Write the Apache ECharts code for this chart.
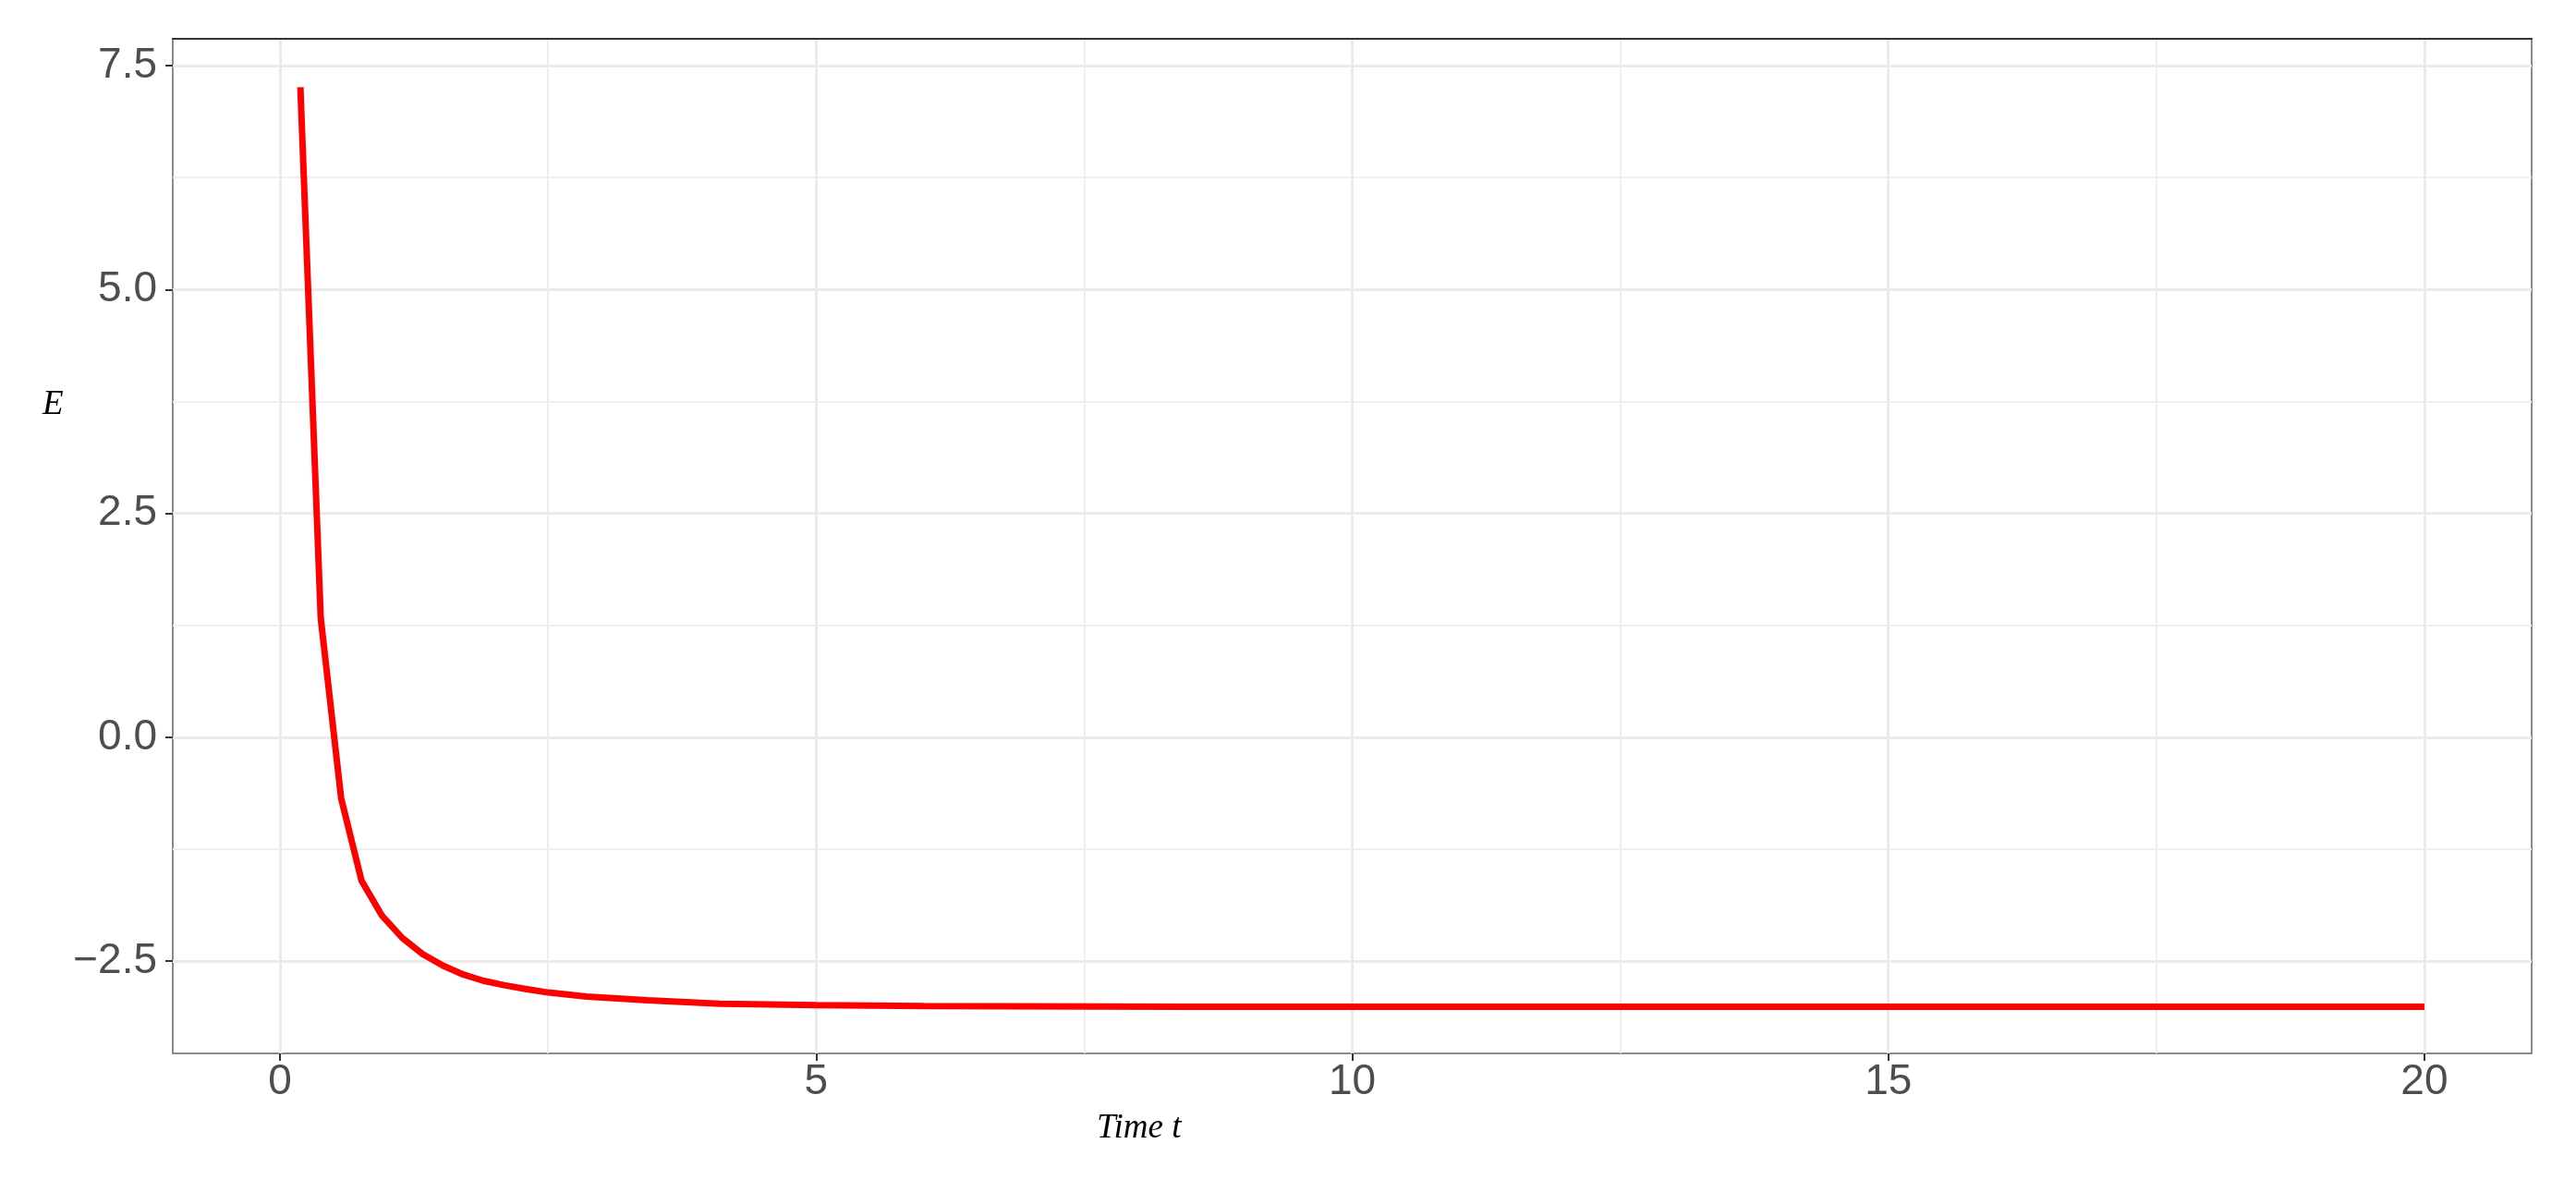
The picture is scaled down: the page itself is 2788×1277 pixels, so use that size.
<!DOCTYPE html>
<html>
<head>
<meta charset="utf-8">
<title>E over time</title>
<script src="https://cdn.jsdelivr.net/npm/echarts@6/dist/echarts.min.js"></script>
<style>
	html, body { margin: 0; padding: 0; background: #fff; }
	#chart { width: 2788px; height: 1277px; }
</style>
</head>
<body>
<div id="chart"></div>
<script>
// time points and E values
var timeArr = [0.19, 0.38, 0.57, 0.76, 0.95, 1.14, 1.33, 1.52, 1.71, 1.90, 2.10, 2.29, 2.50, 2.86, 3.43, 4.10, 5.0, 6.0, 8.4, 12.0, 16.0, 20.0];
var energyArr = [7.26, 1.33, -0.68, -1.60, -1.99, -2.24, -2.42, -2.55, -2.65, -2.72, -2.77, -2.81, -2.85, -2.895, -2.936, -2.975, -2.99, -3.0, -3.01, -3.01, -3.01, -3.01];

var xTicks = [0, 5, 10, 15, 20];
var xMinorTicks = [2.5, 7.5, 12.5, 17.5];
var yTicks = [-2.5, 0, 2.5, 5, 7.5];
var yMinorTicks = [-1.25, 1.25, 3.75, 6.25];

var xTitle = 'Time t';
var yTitle = 'E';

(function () {
	'use strict';

	var chart = echarts.init(document.getElementById('chart'));

	var seriesData = [];
	for (var i = 0; i < timeArr.length; i++) {
		seriesData.push([timeArr[i], energyArr[i]]);
	}

	var labelFont = {
		fontFamily: '"Liberation Sans", Arial, sans-serif',
		fontSize: 46,
		color: '#4d4d4d'
	};
	var tickStyle = { color: '#333', width: 2 };
	var titleFont = 'italic 37px "Liberation Serif", "Times New Roman", serif';

	// 负号用 unicode minus，与原图一致
	function fmtY(v) {
		return (v < 0 ? '\u2212' : '') + Math.abs(v).toFixed(1);
	}

	var option = {
		backgroundColor: '#fff',
		animation: false,
		grid: {
			left: 187,
			top: 42,
			width: 2553,
			height: 1098,
			show: true,
			backgroundColor: '#fff',
			borderColor: '#8a8a8a',
			borderWidth: 2
		},
		xAxis: [{
			type: 'value',
			min: -1,
			max: 21,
			position: 'bottom',
			axisLine: { show: false, onZero: false },
			axisTick: { show: true, length: 8, lineStyle: tickStyle, customValues: xTicks },
			axisLabel: {
				customValues: xTicks,
				margin: 8,
				fontFamily: labelFont.fontFamily,
				fontSize: labelFont.fontSize,
				color: labelFont.color
			},
			splitLine: { show: true, lineStyle: { color: '#ebebeb', width: 3 } }
		}, {
			// minor grid + dark top border
			type: 'value',
			min: -1,
			max: 21,
			position: 'top',
			axisLine: { show: true, onZero: false, lineStyle: { color: '#333', width: 2 } },
			axisTick: { show: false, customValues: xMinorTicks },
			axisLabel: { show: false, customValues: xMinorTicks },
			splitLine: { show: true, lineStyle: { color: '#eeeeee', width: 2 } }
		}],
		yAxis: [{
			type: 'value',
			min: -3.53,
			max: 7.8,
			position: 'left',
			axisLine: { show: false, onZero: false },
			axisTick: { show: true, length: 8, lineStyle: tickStyle, customValues: yTicks },
			axisLabel: {
				customValues: yTicks,
				margin: 17,
				formatter: fmtY,
				fontFamily: labelFont.fontFamily,
				fontSize: labelFont.fontSize,
				color: labelFont.color
			},
			splitLine: { show: true, lineStyle: { color: '#ebebeb', width: 3 } }
		}, {
			type: 'value',
			min: -3.53,
			max: 7.8,
			position: 'right',
			axisLine: { show: false, onZero: false },
			axisTick: { show: false, customValues: yMinorTicks },
			axisLabel: { show: false, customValues: yMinorTicks },
			splitLine: { show: true, lineStyle: { color: '#eeeeee', width: 2 } }
		}],
		graphic: [{
			type: 'text',
			left: 46,
			top: 420,
			style: { text: yTitle, font: titleFont, fill: '#000' }
		}, {
			type: 'text',
			left: 1187,
			top: 1203,
			style: { text: xTitle, font: titleFont, fill: '#000' }
		}],
		series: [{
			type: 'line',
			data: seriesData,
			xAxisIndex: 0,
			yAxisIndex: 0,
			showSymbol: false,
			symbol: 'none',
			lineStyle: { color: '#ff0000', width: 7 },
			z: 5
		}]
	};

	chart.setOption(option);
})();
</script>
</body>
</html>
